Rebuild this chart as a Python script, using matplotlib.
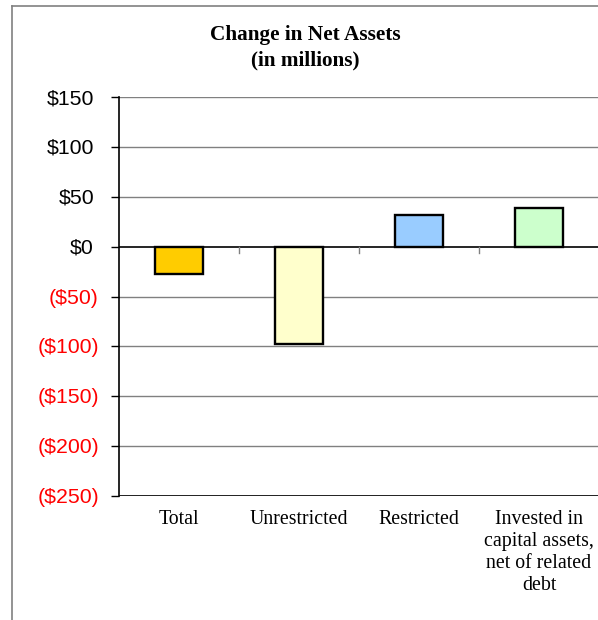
import matplotlib
matplotlib.use("Agg")
import matplotlib.pyplot as plt
import matplotlib.transforms as mtransforms
from matplotlib.lines import Line2D

categories = ["Total", "Unrestricted", "Restricted",
              "Invested in\ncapital assets,\nnet of related\ndebt"]
values = [-27, -98, 32, 39]
colors = ["#FFCC00", "#FFFFCC", "#99CCFF", "#CCFFCC"]
yticks = [150, 100, 50, 0, -50, -100, -150, -200, -250]

W, H = 598, 620
fig = plt.figure(figsize=(W / 100, H / 100), dpi=100)

# outer frame (left and top lines)
fig.add_artist(Line2D([12 / W, 12 / W], [0, 1 - 6 / H], transform=fig.transFigure,
                      color="#808080", lw=1.2))
fig.add_artist(Line2D([12 / W, 1], [1 - 6 / H, 1 - 6 / H], transform=fig.transFigure,
                      color="#808080", lw=1.2))

ax_l, ax_r = 119 / W, 599 / W
ax_t, ax_b = 1 - 97 / H, 1 - 496 / H
ax = fig.add_axes([ax_l, ax_b, ax_r - ax_l, ax_t - ax_b])

x = list(range(len(categories)))
ax.bar(x, values, width=0.4, color=colors, edgecolor="black", linewidth=1.7, zorder=3)

ax.set_xlim(-0.5, len(categories) - 0.5)
ax.set_ylim(-250, 150)
ax.set_yticks(yticks)
ax.set_yticklabels([])
ax.tick_params(axis="y", length=6, width=1, color="black")

trans = ax.get_yaxis_transform()
for v in yticks:
    if v >= 0:
        txt, col, dx = f"${v}", "black", -25
    else:
        txt, col, dx = f"(${-v})", "#FF0000", -20
    off = mtransforms.ScaledTranslation(dx / 100, -1.5 / 100, fig.dpi_scale_trans)
    ax.text(0, v, txt, transform=trans + off, ha="right", va="center",
            fontsize=15.3, family="Liberation Sans", color=col)

for v in yticks:
    if v in (0,):
        continue
    ax.axhline(v, color="#808080", lw=1, zorder=1)
ax.axhline(-250, color="black", lw=1.2, zorder=2)
ax.axhline(0, color="black", lw=1.2, zorder=4)

# category separators ticks on zero line
for b in [0.5, 1.5, 2.5]:
    ax.plot([b, b], [0, -6], color="#808080", lw=1, zorder=4, clip_on=False)

ax.set_xticks([])
for xi, c in zip(x, categories):
    ax.text(xi, -264, c, ha="center", va="top", fontsize=14.3,
            family="Liberation Serif", linespacing=1.22)

for s in ["top", "right", "bottom"]:
    ax.spines[s].set_visible(False)
ax.spines["left"].set_linewidth(1.2)

fig.text(305 / W, 1 - 35 / H, "Change in Net Assets", ha="center", va="center",
         fontsize=15.3, fontweight="bold", family="Liberation Serif")
fig.text(305 / W, 1 - 60 / H, "(in millions)", ha="center", va="center",
         fontsize=15.3, fontweight="bold", family="Liberation Serif")

fig.savefig("out.png", dpi=100)
